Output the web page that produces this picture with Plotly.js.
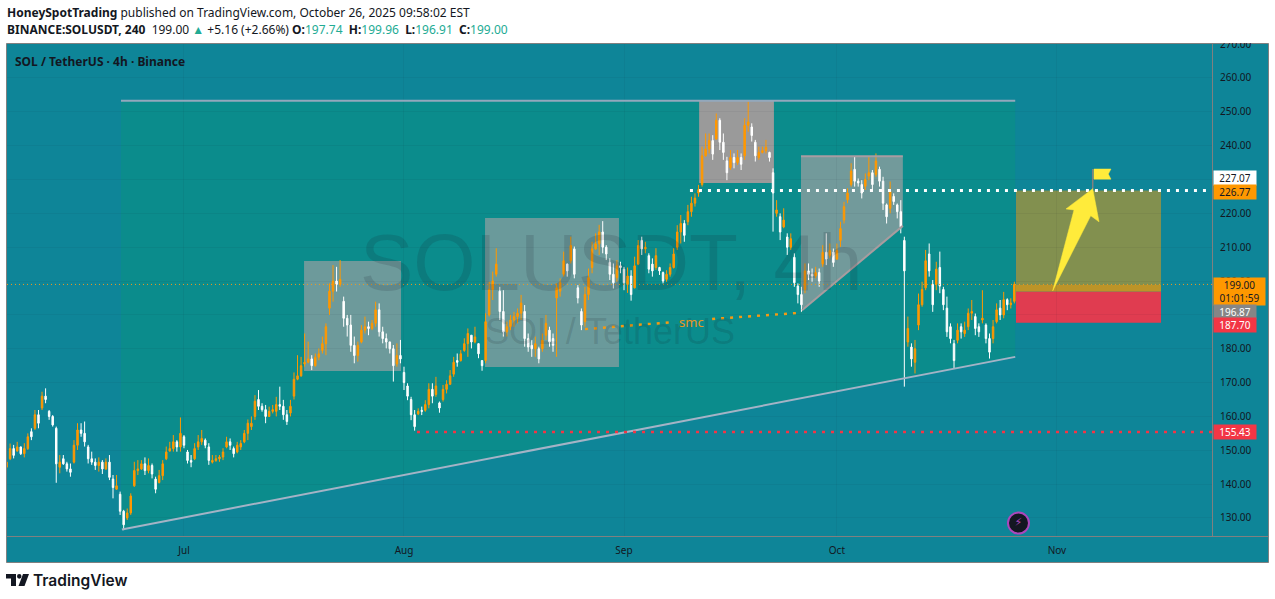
<!DOCTYPE html>
<html><head><meta charset="utf-8">
<script src="https://cdn.plot.ly/plotly-3.0.1.min.js"></script>
<style>html,body{margin:0;padding:0;background:#fff;overflow:hidden}#c{width:1275px;height:599px}
#mask{position:absolute;left:1214px;top:0;width:54px;height:43px;background:#fff}</style>
</head><body><div id="c"></div><div id="mask"></div>
<script>
// ---------- price bars (one bar every 12 hours from 2025-06-06) ----------
const firstBar = '2025-06-06T00:00:00Z';
const barHigh = [
147.1,152.0,151.6,152.5,151.1,152.1,155.0,156.5,161.9,161.9,
167.3,168.3,161.9,160.4,157.0,148.6,148.6,146.6,146.1,153.0,
158.0,158.0,158.5,151.6,149.6,147.6,147.9,147.1,147.6,148.6,
142.7,142.7,137.8,132.4,132.8,137.3,146.6,147.1,147.1,147.9,
147.6,146.1,142.2,144.2,147.1,151.1,152.5,154.5,153.0,159.7,
154.5,150.1,148.6,152.1,154.5,156.0,153.5,152.1,148.6,148.6,
148.6,150.6,154.0,153.5,151.1,152.5,153.0,156.0,159.1,160.0,
166.3,167.8,163.9,163.4,162.9,163.4,165.8,168.8,164.9,161.9,
164.9,173.0,178.1,177.6,184.5,182.1,178.1,178.6,180.1,183.6,
187.5,199.3,204.7,204.2,206.2,195.4,190.0,190.0,183.6,182.1,
187.0,189.5,188.0,188.5,193.9,193.4,186.5,184.5,182.1,181.1,
181.6,182.6,174.7,169.8,165.8,161.9,162.4,162.9,164.8,169.8,
169.8,171.7,164.4,169.3,170.7,173.7,177.6,178.6,179.6,183.1,
186.0,184.0,186.5,181.6,176.6,190.5,199.8,202.8,209.7,198.3,
197.3,188.0,190.0,190.9,191.9,195.9,192.9,184.5,182.6,183.6,
180.6,184.5,190.0,186.5,184.5,199.3,200.8,208.7,205.2,213.1,
210.2,198.8,191.9,198.3,203.7,211.6,214.1,216.6,217.7,210.6,
206.7,205.2,206.2,205.7,204.2,204.0,203.2,207.2,212.1,213.1,
211.6,208.2,206.7,209.7,204.2,202.8,203.2,205.2,209.7,216.5,
219.5,218.0,222.5,224.9,225.9,228.4,239.7,243.6,243.6,243.1,
249.5,248.1,243.6,236.7,238.7,237.7,238.7,237.7,248.1,253.0,
246.6,241.7,239.7,239.7,241.7,238.2,233.3,223.9,220.0,221.5,
214.1,214.1,208.2,199.3,198.3,205.2,205.2,203.7,204.2,203.7,
210.6,214.1,211.1,209.6,211.1,217.5,223.4,227.4,234.8,236.7,
230.3,229.8,231.8,236.7,232.8,237.7,233.8,230.8,222.9,229.4,
225.9,222.9,223.9,213.1,189.5,181.6,182.6,196.3,199.8,209.2,
211.1,200.3,205.7,208.7,198.3,195.4,187.5,182.6,187.5,187.5,
188.0,191.9,194.4,190.4,187.5,197.3,187.5,184.5,188.5,193.4,
194.4,196.8,194.9,194.9,199.8];
const barLow = [
144.2,147.1,147.6,149.6,148.6,147.9,150.1,153.0,156.0,156.5,
161.9,163.9,159.0,157.0,140.4,143.2,145.7,143.7,142.2,146.1,
150.1,154.0,151.1,146.1,145.7,144.2,143.7,143.0,144.2,141.2,
135.8,138.3,130.9,126.4,129.4,130.9,139.2,142.7,144.2,142.7,
143.2,141.7,137.3,140.2,141.2,147.1,149.6,149.6,149.6,149.6,
150.6,146.1,145.0,147.1,150.1,151.6,150.6,145.7,146.1,146.6,
146.6,147.1,150.6,150.1,147.9,149.1,150.1,152.1,153.0,156.0,
159.0,161.9,161.4,158.0,160.0,160.9,160.0,161.9,159.0,157.5,
160.0,165.0,170.7,171.7,174.7,175.7,173.7,174.7,176.6,178.6,
178.1,190.0,193.9,196.9,198.3,186.5,183.6,179.1,175.7,176.2,
181.6,184.5,184.0,185.5,186.5,183.6,181.6,180.1,178.6,170.3,
174.7,175.7,167.8,164.8,158.9,155.8,160.4,160.4,161.4,162.4,
163.9,165.8,161.1,164.4,166.8,169.3,171.7,174.7,176.2,179.1,
177.6,180.1,181.6,177.2,173.5,175.7,189.5,194.4,201.3,188.5,
183.6,183.6,185.5,186.5,187.5,188.5,180.6,179.1,177.6,177.6,
175.7,179.1,182.6,180.6,179.1,177.6,195.4,201.3,201.3,205.2,
200.8,193.4,185.5,186.5,194.4,202.3,209.2,207.7,208.2,206.2,
200.3,197.8,199.8,202.3,197.3,196.5,194.2,197.8,204.7,207.7,
208.2,202.3,201.3,203.3,201.8,199.3,199.8,201.3,203.7,209.2,
211.1,211.6,216.5,219.0,222.0,224.9,227.9,236.7,237.7,235.8,
241.7,238.7,235.8,229.8,232.8,233.3,234.3,232.8,235.8,244.1,
241.2,235.3,235.8,237.7,237.7,235.3,214.6,219.0,212.1,215.6,
207.7,209.2,198.3,193.4,190.9,196.4,200.3,199.8,200.8,198.3,
204.2,204.7,206.7,204.2,206.2,210.1,217.0,223.0,227.9,227.9,
227.9,224.4,226.9,229.8,226.4,230.8,227.9,221.0,217.0,220.0,
222.5,218.5,214.1,168.8,180.6,174.7,172.7,185.5,192.4,197.3,
201.3,190.9,197.3,196.4,191.4,183.5,181.6,174.2,181.6,183.0,
183.5,185.5,188.5,184.0,183.5,187.5,181.6,177.1,181.6,187.5,
188.5,189.0,191.4,191.9,193.4];
const barOpen = [
145.0,147.5,150.5,149.8,151.0,149.0,150.5,155.5,156.5,160.5,
162.5,166.0,161.5,160.0,156.5,145.0,147.5,146.0,144.5,146.5,
151.5,156.0,155.0,151.0,147.5,146.5,145.5,146.5,144.5,146.5,
141.5,138.5,137.0,132.0,130.0,131.5,139.5,144.0,144.5,146.0,
144.0,145.5,141.5,140.5,142.5,147.5,149.8,150.5,152.5,151.0,
154.0,149.5,147.0,147.5,151.0,152.5,153.0,151.0,146.5,147.0,
147.5,148.0,151.0,152.5,150.5,149.5,151.0,152.5,155.0,157.0,
160.0,165.0,163.0,162.0,160.0,161.5,161.5,163.5,163.0,160.5,
161.0,166.0,171.0,172.0,175.5,176.0,177.0,175.0,177.5,179.5,
181.5,192.0,197.0,200.0,199.0,194.0,189.0,187.0,181.0,178.0,
182.0,185.5,186.5,186.0,187.5,191.5,185.0,183.0,182.0,180.0,
175.5,178.0,173.0,169.0,165.0,160.5,160.8,161.8,161.8,163.5,
168.0,166.5,164.0,165.0,168.0,169.5,172.5,176.5,176.5,179.5,
181.5,184.0,182.0,181.5,176.5,176.5,190.0,197.5,202.0,197.0,
191.0,185.0,186.5,188.5,189.5,190.5,191.0,183.0,181.0,180.0,
180.0,180.0,184.0,185.5,183.0,195.0,197.0,202.0,205.0,206.0,
209.5,198.0,191.0,188.0,196.0,204.0,209.5,211.0,214.5,210.0,
205.5,202.0,201.0,204.5,203.5,199.0,201.5,198.0,205.0,212.0,
209.5,207.5,205.0,204.0,204.0,202.5,200.5,202.0,204.0,210.0,
214.5,217.0,217.5,220.5,223.0,226.0,228.5,237.0,239.0,241.5,
242.0,247.5,241.0,235.5,233.5,236.5,235.0,236.5,237.0,246.0,
245.5,241.0,236.5,238.0,238.5,238.0,232.0,220.0,219.0,216.0,
213.0,210.0,207.0,198.5,196.0,197.5,203.0,202.0,201.5,202.5,
205.0,208.5,207.5,208.5,206.5,212.0,218.0,224.0,228.5,233.0,
229.5,228.5,228.0,231.0,232.0,231.5,233.0,229.5,222.5,221.5,
225.0,222.5,220.5,212.0,182.0,180.5,176.0,187.0,193.0,198.0,
208.0,199.0,199.0,204.0,197.5,192.0,186.5,181.5,182.5,186.5,
184.5,186.5,190.5,189.5,186.5,188.5,187.0,183.0,183.0,188.0,
192.0,190.0,194.5,193.0,194.0];
const barClose = [
146.5,150.5,148.5,151.0,149.0,150.5,154.0,154.0,160.5,158.0,
166.0,165.0,160.0,157.5,146.0,146.5,146.0,144.5,143.5,151.5,
156.0,155.0,152.5,147.5,146.5,145.5,146.5,144.5,146.5,142.0,
139.0,139.5,132.0,128.0,131.5,136.5,144.0,144.5,146.0,144.0,
145.5,143.0,138.5,142.5,146.0,149.5,150.5,152.5,151.0,155.0,
151.5,147.0,146.5,150.5,152.5,153.5,151.5,147.0,147.0,147.5,
148.0,149.5,152.5,151.5,149.0,151.5,152.0,155.0,158.0,158.0,
164.5,163.0,162.0,160.0,161.5,162.0,163.5,163.0,160.5,158.5,
163.0,171.0,172.0,175.0,176.0,177.0,175.0,177.5,178.5,181.5,
186.5,197.0,200.0,199.0,200.5,189.0,187.0,181.0,178.0,181.0,
185.5,186.5,186.0,187.5,191.5,185.0,183.0,182.0,180.0,175.0,
178.0,177.0,170.0,166.0,160.5,157.0,161.5,161.5,163.5,168.0,
166.0,169.0,162.5,168.0,169.5,172.0,176.0,176.0,178.5,181.5,
184.5,182.0,183.5,178.5,175.0,188.0,197.5,200.0,205.0,191.0,
185.0,186.5,188.5,189.5,190.5,193.5,183.0,180.5,180.0,181.5,
177.0,182.5,187.5,182.0,181.0,198.0,199.5,206.0,203.0,210.5,
202.0,195.0,187.0,196.0,201.0,209.5,211.0,214.5,210.0,208.0,
202.0,199.5,204.5,204.0,199.5,201.5,196.0,204.5,210.5,209.5,
210.0,203.5,203.0,207.5,203.0,200.0,202.0,204.0,208.0,214.5,
217.0,213.5,220.5,223.0,224.5,227.0,237.0,239.0,241.5,237.5,
247.5,241.0,238.0,232.0,236.5,235.0,236.5,234.5,246.0,247.0,
243.0,237.0,238.0,238.5,239.5,236.5,226.0,221.0,214.5,218.0,
210.0,212.5,199.5,196.0,193.0,203.0,202.0,201.5,202.5,200.0,
208.5,206.5,209.0,205.5,209.0,215.5,222.0,226.0,232.5,229.5,
229.0,226.0,230.0,232.0,228.5,235.5,229.5,223.0,219.0,226.5,
223.5,220.5,216.0,203.0,186.0,177.0,180.0,193.0,197.5,206.0,
203.0,193.0,203.5,198.5,193.0,185.0,183.0,176.5,185.5,185.0,
185.5,190.5,191.0,186.0,185.0,189.0,183.0,179.0,186.5,191.5,
190.0,194.5,193.0,193.5,199.0];

// ---------- axes ----------
const monthDates = ['2025-07-01','2025-08-01','2025-09-01','2025-10-01','2025-11-01'];
const monthLabels = ['Jul','Aug','Sep','Oct','Nov'];
const xRange = ['2025-06-06 01:30','2025-11-22 20:24'];
const yRange = [124.68,270.03];

// ---------- drawings ----------
const zoneX = ['2025-06-22_03:00','2025-10-26_03:00','2025-10-26_03:00','2025-06-22_16:30','2025-06-22_03:00'];
const zoneY = [253.2,253.2,177.6,126.6,126.6];
const box1X = ['2025-07-17_22:00','2025-07-31_14:00'], box1Y = [205.9,173.4];
const box2X = ['2025-08-12_10:00','2025-08-31_07:00'], box2Y = [218.6,174.6];
const box3X = ['2025-09-11_14:00','2025-09-22_03:00'], box3Y = [253.2,229.0];
const box4X = ['2025-09-25_22:30','2025-10-10_07:00','2025-10-10_07:00','2025-09-26_12:00','2025-09-25_22:30'];
const box4Y = [236.9,236.9,216.3,192.0,192.0];
const targetX = ['2025-10-26_05:30','2025-11-15_16:00'];
const targetTop = 226.77, entryTop = 199.0, entryBottom = 196.87, stopBottom = 187.7;
const topLineX = ['2025-06-22 03:00','2025-10-26 03:00'], topLineY = [253.3,253.3];
const slopeX = ['2025-06-22 06:00','2025-10-26 03:00'], slopeY = [126.6,177.6];
const diagX = ['2025-09-26 02:00','2025-10-10 07:00'], diagY = [191.4,216.3];
const capX = ['2025-09-25 22:30','2025-10-10 07:00'], capY = [236.9,236.9];
const whiteDotX = ['2025-09-10 07:00','2025-11-22 02:00'], whiteDotY = [226.77,226.77];
const redDotX = ['2025-08-02 20:00','2025-11-22 20:24'], redDotY = [155.43,155.43];
const lastDotX = ['2025-06-06 01:30','2025-11-22 20:24'], lastDotY = [199,199];
const smc1X = ['2025-08-26 12:00','2025-09-07 11:30'], smc1Y = [185.8,187.8];
const smc2X = ['2025-09-13 10:00','2025-09-26 02:00'], smc2Y = [188.8,190.65];
const arrowX = ['2025-11-06 01:00','2025-11-06 22:20','2025-11-05 18:15','2025-10-31 09:40','2025-11-03 09:40','2025-11-02 06:40','2025-11-06 01:00'];
const arrowY = [227.3,217.5,219.3,197.1,221.0,221.3,227.3];
const flagX = ['2025-11-06 05:20','2025-11-08 14:50','2025-11-08 05:45','2025-11-08 14:50','2025-11-06 05:20','2025-11-06 05:20'];
const flagY = [233.1,233.1,231.6,230.1,230.1,233.1];
const poleX = ['2025-11-06 01:00','2025-11-06 01:00'], poleY = [233.1,227];
const boltX = ['2025-10-26 14:00'], boltY = [128.5];
const priceTags = [
 {v:'227.07', y:230.5, bg:'#ffffff', fg:'#131722'},
 {v:'226.77', y:226.3, bg:'#ff9800', fg:'#131722'},
 {v:'196.87', y:190.9, bg:'#868686', fg:'#ffffff'},
 {v:'187.70', y:186.9, bg:'#f23645', fg:'#ffffff'},
 {v:'155.43', y:155.43, bg:'#f23645', fg:'#ffffff'}
];

// ---------- build ----------
const W=1275,H=599,ml=7,mr=63,mt=44,mb=63,pw=W-ml-mr,ph=H-mt-mb;
const px=v=>(v-ml)/pw, py=v=>1-(v-mt)/ph;
const barDates = barHigh.map((_,i)=>new Date(Date.parse(firstBar)+i*43200000).toISOString());
const FONT='"Noto Sans", "Open Sans", sans-serif';
const poly=(xs,ys)=>'M '+xs.map((x,i)=>x+' '+ys[i]).join(' L ')+' Z';
const rect=(xs,yTop,yBot,fill,extra)=>Object.assign({type:'rect',xref:'x',yref:'y',x0:xs[0].replace('_',' '),x1:xs[1].replace('_',' '),y0:yBot,y1:yTop,fillcolor:fill,line:{width:0},layer:'below'},extra||{});
const logoPath=pts=>'M '+pts.map(p=>px(p[0])+' '+py(p[1])).join(' L ')+' Z';

const shapes=[
 {type:'rect',xref:'paper',yref:'paper',x0:px(6.5),x1:px(1268.5),y0:py(562.5),y1:py(43.5),fillcolor:'#0e8598',line:{color:'#808080',width:1},layer:'below'},
 {type:'path',xref:'x',yref:'y',path:poly(zoneX,zoneY),fillcolor:'#0b8c8c',line:{width:0},layer:'below'},
 rect(box1X,box1Y[0],box1Y[1],'#6d9a9b'),
 rect(box2X,box2Y[0],box2Y[1],'#6a9a9b'),
 rect(box3X,box3Y[0],box3Y[1],'#9a9a9a'),
 {type:'path',xref:'x',yref:'y',path:poly(box4X,box4Y),fillcolor:'#729a9b',line:{width:0},layer:'below'},
 rect(targetX,targetTop,entryTop,'#82904f'),
 rect(targetX,entryTop,entryBottom,'#bc9428'),
 rect(targetX,entryBottom,stopBottom,'#e03c50'),
 {type:'line',xref:'paper',yref:'paper',x0:px(1212.5),x1:px(1268.5),y0:py(536.5),y1:py(536.5),line:{color:'#808080',width:1}},
 {type:'path',xref:'paper',yref:'paper',path:logoPath([[6,574],[16,574],[16,586],[11,586],[11,578.5],[6,578.5]]),fillcolor:'#131722',line:{width:0}},
 {type:'circle',xref:'paper',yref:'paper',x0:px(17),x1:px(21.5),y0:py(578.7),y1:py(574),fillcolor:'#131722',line:{width:0}},
 {type:'path',xref:'paper',yref:'paper',path:logoPath([[23,574],[29,574],[24.5,586],[18.5,586]]),fillcolor:'#131722',line:{width:0}}
];

const lineTrace=(x,y,color,width,dash)=>({type:'scatter',mode:'lines',x,y,line:{color,width,dash:dash||'solid'},hoverinfo:'skip',showlegend:false});
const traces=[
 {type:'candlestick',x:barDates,open:barOpen,high:barHigh,low:barLow,close:barClose,
  increasing:{line:{color:'#ff9800',width:1},fillcolor:'#ff9800'},
  decreasing:{line:{color:'#ffffff',width:1},fillcolor:'#ffffff'},
  whiskerwidth:0,hoverinfo:'skip',showlegend:false},
 lineTrace(lastDotX,lastDotY,'#f39a1c',1,'1px,3px'),
 lineTrace(topLineX,topLineY,'#93a8bc',2),
 lineTrace(slopeX,slopeY,'#a4b3c6',2),
 lineTrace(diagX,diagY,'#a89c9f',2),
 lineTrace(capX,capY,'#a99ca2',2),
 lineTrace(whiteDotX,whiteDotY,'#ffffff',3,'3px,6px'),
 lineTrace(redDotX,redDotY,'#f23645',2.5,'3px,6px'),
 lineTrace(smc1X,smc1Y,'#f59a12',2.5,'3px,6px'),
 lineTrace(smc2X,smc2Y,'#f59a12',2.5,'3px,6px'),
 lineTrace(poleX,poleY,'#808080',1.5),
 {type:'scatter',mode:'lines',x:arrowX,y:arrowY,fill:'toself',fillcolor:'#ffeb3b',line:{color:'#ffeb3b',width:0.5},hoverinfo:'skip',showlegend:false},
 {type:'scatter',mode:'lines',x:flagX,y:flagY,fill:'toself',fillcolor:'#ffeb3b',line:{color:'#ffeb3b',width:0.5},hoverinfo:'skip',showlegend:false},
 {type:'scatter',mode:'markers+text',x:boltX,y:boltY,text:['⚡'],textposition:'middle center',textfont:{family:'DejaVu Sans',size:11,color:'#ab47bc'},
  marker:{size:21,color:'#131722',line:{color:'#ab47bc',width:2}},hoverinfo:'skip',showlegend:false}
];

const note=(o)=>Object.assign({showarrow:false,xref:'paper',yref:'paper',xanchor:'left',yanchor:'middle',font:{family:FONT,size:12,color:'#131722'}},o);
const teal=t=>'<span style="color:#22ab94">'+t+'</span>';
const gap='\u00a0\u00a0';
const annotations=[
 note({x:px(4.5),y:py(12.5),text:'<b>HoneySpotTrading</b> published on TradingView.com, October 26, 2025 09:58:02 EST'}),
 note({x:px(4.5),y:py(29.5),text:'<b>BINANCE:SOLUSDT, 240</b>  199.00 '+teal('▲')+' +5.16 (+2.66%) <b>O:</b>'+teal('197.74')+gap+'<b>H:</b>'+teal('199.96')+gap+'<b>L:</b>'+teal('196.91')+gap+'<b>C:</b>'+teal('199.00')}),
 note({x:px(13),y:py(61),text:'<b>SOL / TetherUS · 4h · Binance</b>',font:{family:FONT,size:12,color:'#131722'}}),
 note({x:px(611),y:py(262),xanchor:'center',text:'SOLUSDT, 4h',font:{family:'Liberation Sans',size:80,color:'rgba(19,23,34,0.14)'}}),
 note({x:px(610),y:py(331),xanchor:'center',text:'SOL / TetherUS',font:{family:'Liberation Sans',size:36,color:'rgba(19,23,34,0.14)'}}),
 note({x:'2025-09-10 12:00',xref:'x',y:187.9,yref:'y',xanchor:'center',text:'smc',font:{family:FONT,size:13,color:'#e8961e'}}),
 note({x:px(31),y:py(580),text:'TradingView',font:{family:'Inter',size:15.5,weight:600,color:'#131722'}}),
 note({x:px(1213),y:py(291.5),width:51,height:27,bgcolor:'#ff9800',align:'center',borderpad:0,text:'199.00<br>01:01:59',font:{family:FONT,size:10,color:'#131722'}})
];
priceTags.forEach(t=>annotations.push(note({x:px(1213),y:t.y,yref:'y',width:42,height:14,bgcolor:t.bg,align:'center',borderpad:0,text:t.v,font:{family:FONT,size:10,color:t.fg}})));

const layout={width:W,height:H,margin:{l:ml,r:mr,t:mt,b:mb,pad:0},paper_bgcolor:'#ffffff',plot_bgcolor:'rgba(0,0,0,0)',showlegend:false,dragmode:false,
 xaxis:{type:'date',range:xRange,tickmode:'array',tickvals:monthDates,ticktext:monthLabels,rangeslider:{visible:false},
  tickfont:{family:FONT,size:10,color:'#131722'},ticks:'outside',ticklen:5,tickcolor:'rgba(0,0,0,0)',
  showgrid:true,gridcolor:'rgba(19,23,34,0.05)',gridwidth:1,showline:true,linecolor:'#808080',linewidth:1,zeroline:false,automargin:false},
 yaxis:{side:'right',range:yRange,tick0:130,dtick:10,tickformat:'.2f',
  tickfont:{family:FONT,size:10,color:'#131722'},ticks:'outside',ticklen:5,tickcolor:'rgba(0,0,0,0)',
  showgrid:true,gridcolor:'rgba(19,23,34,0.05)',gridwidth:1,showline:true,linecolor:'#808080',linewidth:1,zeroline:false,automargin:false},
 boxgap:0.4,shapes,annotations};
Plotly.newPlot('c',traces,layout,{displayModeBar:false,staticPlot:true});
</script></body></html>
